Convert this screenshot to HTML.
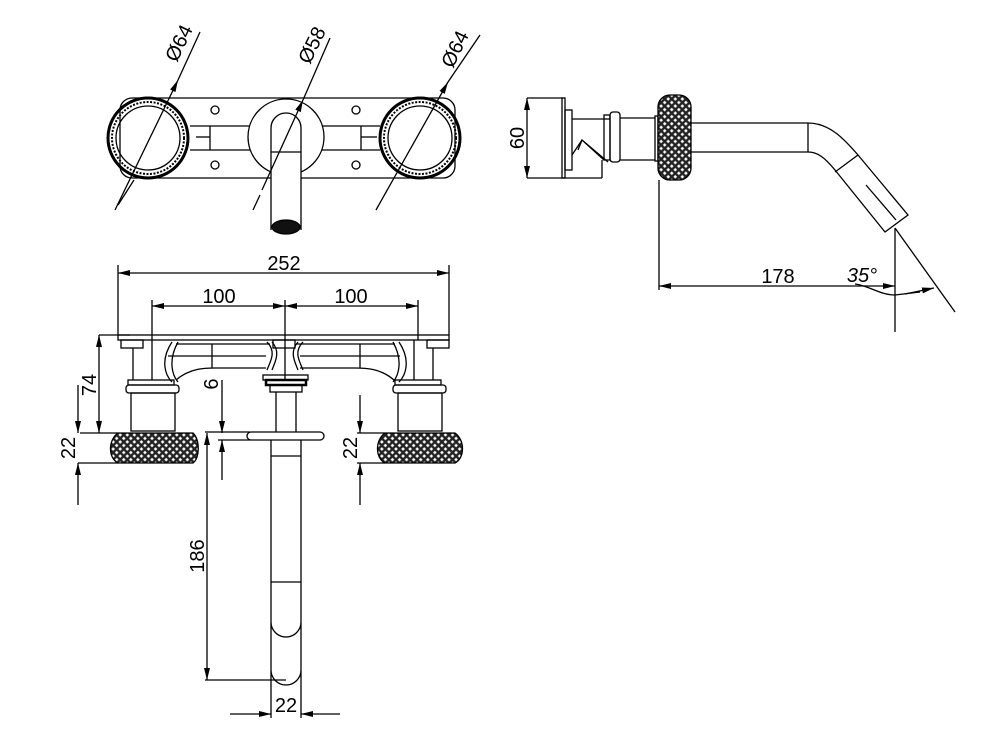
<!DOCTYPE html>
<html><head><meta charset="utf-8"><style>html,body{margin:0;padding:0;background:#fff}svg{display:block}</style></head><body>
<svg width="1000" height="737" viewBox="0 0 1000 737" xmlns="http://www.w3.org/2000/svg" font-family="Liberation Sans, sans-serif">
<defs>
<pattern id="kn" width="5" height="5" patternUnits="userSpaceOnUse" patternTransform="rotate(45)">
<rect width="5" height="5" fill="#222"/><rect x="1.2" y="1.2" width="2.6" height="2.6" fill="#fff"/>
</pattern>
<marker id="a" markerWidth="12" markerHeight="6" refX="12" refY="3" orient="auto" markerUnits="userSpaceOnUse"><path d="M0,0 L12,3 L0,6 z" fill="#000"/></marker>
</defs>
<g fill="none" stroke="#000" stroke-width="1.3">
<!-- TOP VIEW -->
<rect x="120" y="98" width="335" height="80" rx="12"/>
<line x1="190" y1="126" x2="250" y2="126"/><line x1="190" y1="150" x2="250" y2="150"/>
<line x1="210" y1="126" x2="210" y2="150"/><line x1="196" y1="137" x2="210" y2="137"/>
<line x1="322" y1="126" x2="380" y2="126"/><line x1="322" y1="150" x2="380" y2="150"/>
<line x1="361" y1="126" x2="361" y2="150"/><line x1="361" y1="137" x2="377" y2="137"/>
<circle cx="215" cy="110" r="4"/><circle cx="215" cy="165" r="4"/>
<circle cx="356" cy="110" r="4"/><circle cx="356" cy="165" r="4"/>
<circle cx="148" cy="138" r="40" stroke-width="3"/><circle cx="148" cy="138" r="36" stroke-dasharray="2 1.5" stroke-width="2"/><circle cx="148" cy="138" r="32"/>
<circle cx="420" cy="138" r="40" stroke-width="3"/><circle cx="420" cy="138" r="36" stroke-dasharray="2 1.5" stroke-width="2"/><circle cx="420" cy="138" r="32"/>
<circle cx="286" cy="137" r="38" fill="#fff"/>
<path d="M271,230 V128 A15,15 0 0 1 301,128 V230" fill="#fff"/>
<line x1="271" y1="152" x2="301" y2="152"/>
<ellipse cx="286" cy="227" rx="14" ry="7" fill="#111"/>
<line x1="115" y1="210" x2="178" y2="80" marker-end="url(#a)"/><line x1="178" y1="80" x2="200" y2="32"/><line x1="118" y1="205" x2="134" y2="180"/>
<line x1="253" y1="210" x2="260" y2="195" /><line x1="262" y1="190" x2="303" y2="100" marker-end="url(#a)"/><line x1="303" y1="100" x2="330" y2="38"/>
<line x1="376" y1="210" x2="448" y2="82" marker-end="url(#a)"/><line x1="448" y1="82" x2="480" y2="35"/>
<!-- FRONT VIEW dims -->
<line x1="118" y1="265" x2="118" y2="335"/><line x1="449" y1="265" x2="449" y2="335"/>
<line x1="150" y1="273" x2="118" y2="273" marker-end="url(#a)"/><line x1="150" y1="273" x2="449" y2="273" marker-end="url(#a)"/>
<line x1="152" y1="300" x2="152" y2="340"/><line x1="285" y1="300" x2="285" y2="380"/><line x1="418" y1="300" x2="418" y2="340"/>
<line x1="200" y1="306" x2="152" y2="306" marker-end="url(#a)"/><line x1="200" y1="306" x2="285" y2="306" marker-end="url(#a)"/>
<line x1="350" y1="306" x2="285" y2="306" marker-end="url(#a)"/><line x1="350" y1="306" x2="418" y2="306" marker-end="url(#a)"/>
<!-- front body -->
<rect x="118" y="335" width="331" height="5"/>
<rect x="121" y="340" width="22" height="8"/><rect x="273" y="340" width="22" height="8"/><rect x="427" y="340" width="22" height="8"/>
<line x1="133" y1="348" x2="133" y2="380"/><line x1="152" y1="340" x2="152" y2="380"/>
<line x1="433" y1="348" x2="433" y2="380"/><line x1="414" y1="340" x2="414" y2="380"/>
<path d="M172,342 C160,360 165,375 172,382 M178,342 C168,360 172,375 178,382"/>
<path d="M399,342 C411,360 406,375 399,382 M393,342 C403,360 399,375 393,382"/>
<path d="M267,342 C277,352 270,362 267,370 M272,342 C281,352 275,362 272,370"/>
<path d="M303,342 C293,352 300,362 303,370 M298,342 C289,352 295,362 298,370"/>
<line x1="176" y1="344" x2="270" y2="344"/><line x1="296" y1="344" x2="395" y2="344"/>
<line x1="168" y1="356" x2="266" y2="356"/><line x1="300" y1="356" x2="400" y2="356"/>
<line x1="212" y1="344" x2="212" y2="368"/><line x1="360" y1="344" x2="360" y2="368"/>
<path d="M176,380 C190,368 205,368 215,368 H266 M300,368 H355 C365,368 380,368 394,380"/>
<rect x="128" y="380" width="46" height="5"/><rect x="126" y="385" width="53" height="8" rx="3"/>
<rect x="395" y="380" width="46" height="5"/><rect x="393" y="385" width="53" height="8" rx="3"/>
<rect x="131" y="393" width="44" height="38"/><rect x="398" y="393" width="44" height="38"/>
<rect x="263" y="375" width="45" height="5"/><rect x="266" y="380" width="40" height="5" stroke-width="2.5"/><rect x="270" y="385" width="32" height="7"/>
<line x1="276" y1="392" x2="276" y2="432"/><line x1="296" y1="392" x2="296" y2="432"/>
<path d="M118,433 H193 C200,440 200,458 193,463 H118 C108,458 108,440 118,433 z" fill="url(#kn)"/>
<path d="M385,433 H455 C465,440 465,458 455,463 H385 C375,458 375,440 385,433 z" fill="url(#kn)"/>
<rect x="247" y="432" width="77" height="8" rx="4" fill="#fff"/>
<path d="M271,440 V680 M301,440 V680 M271,456 H301 M271,582 H301 M271,622 A15,15 0 0 0 301,622 M271,670 A15,15 0 0 0 301,670"/>
<!-- left dims -->
<line x1="99" y1="335" x2="130" y2="335"/><line x1="80" y1="433" x2="118" y2="433"/><line x1="78" y1="463" x2="118" y2="463"/>
<line x1="99" y1="385" x2="99" y2="335" marker-end="url(#a)"/><line x1="99" y1="385" x2="99" y2="433" marker-end="url(#a)"/>
<line x1="78" y1="385" x2="78" y2="433" marker-end="url(#a)"/><line x1="78" y1="505" x2="78" y2="463" marker-end="url(#a)"/>
<line x1="222" y1="380" x2="222" y2="433" marker-end="url(#a)"/><line x1="222" y1="480" x2="222" y2="440" marker-end="url(#a)"/>
<line x1="205" y1="432" x2="250" y2="432"/><line x1="218" y1="440" x2="250" y2="440"/>
<line x1="207" y1="550" x2="207" y2="433" marker-end="url(#a)"/><line x1="207" y1="550" x2="207" y2="680" marker-end="url(#a)"/>
<line x1="205" y1="680" x2="286" y2="680"/>
<line x1="271" y1="680" x2="271" y2="718"/><line x1="301" y1="680" x2="301" y2="718"/>
<line x1="230" y1="714" x2="271" y2="714" marker-end="url(#a)"/><line x1="340" y1="714" x2="301" y2="714" marker-end="url(#a)"/>
<line x1="360" y1="395" x2="360" y2="433" marker-end="url(#a)"/><line x1="360" y1="505" x2="360" y2="463" marker-end="url(#a)"/>
<line x1="357" y1="433" x2="385" y2="433"/><line x1="357" y1="463" x2="385" y2="463"/>
<!-- SIDE VIEW -->
<line x1="527" y1="98" x2="563" y2="98"/><line x1="527" y1="178" x2="602" y2="178"/>
<line x1="527" y1="140" x2="527" y2="98" marker-end="url(#a)"/><line x1="527" y1="140" x2="527" y2="178" marker-end="url(#a)"/>
<rect x="562" y="98" width="3" height="80"/><rect x="565" y="110" width="7" height="60"/>
<line x1="572" y1="119" x2="610" y2="119"/><line x1="602" y1="178" x2="602" y2="160"/>
<path d="M572,155 L582,140 L604,160 M578,150 L582,140 L608,162"/>
<rect x="604" y="115" width="6" height="45"/><rect x="610" y="112" width="10" height="50" rx="3"/>
<line x1="620" y1="118" x2="655" y2="118"/><line x1="620" y1="160" x2="655" y2="160"/>
<rect x="655" y="116" width="3" height="45"/>
<rect x="658" y="95" width="33" height="85" rx="12" fill="url(#kn)"/>
<path d="M691,123 H808 C830,123 845,140 858,155 L908,215 L885,232 L835,170 C825,158 818,152 808,152 H691"/>
<line x1="808" y1="123" x2="808" y2="152"/><line x1="858" y1="155" x2="835" y2="172"/>
<line x1="866" y1="185" x2="896" y2="220"/>
<line x1="659" y1="180" x2="659" y2="290"/><line x1="895" y1="228" x2="895" y2="332"/>
<line x1="895" y1="228" x2="955" y2="312"/>
<line x1="780" y1="286" x2="659" y2="286" marker-end="url(#a)"/><line x1="780" y1="286" x2="895" y2="286" marker-end="url(#a)"/>
<path d="M855,284 C870,286 880,295 895,295 L920,292" /><line x1="905" y1="294" x2="934" y2="288" marker-end="url(#a)"/>
</g>
<g font-size="20" fill="#000">
<text x="0" y="0" transform="translate(185,46) rotate(-64)" text-anchor="middle">Ø64</text>
<text x="0" y="0" transform="translate(318,48) rotate(-64)" text-anchor="middle">Ø58</text>
<text x="0" y="0" transform="translate(461,52) rotate(-64)" text-anchor="middle">Ø64</text>
<text x="284" y="270" text-anchor="middle">252</text>
<text x="219" y="303" text-anchor="middle">100</text>
<text x="351" y="303" text-anchor="middle">100</text>
<text transform="translate(96,385) rotate(-90)" text-anchor="middle">74</text>
<text transform="translate(75,448) rotate(-90)" text-anchor="middle">22</text>
<text transform="translate(218,384) rotate(-90)" text-anchor="middle">6</text>
<text transform="translate(204,556) rotate(-90)" text-anchor="middle">186</text>
<text transform="translate(357,448) rotate(-90)" text-anchor="middle">22</text>
<text x="286" y="712" text-anchor="middle">22</text>
<text transform="translate(524,138) rotate(-90)" text-anchor="middle">60</text>
<text x="778" y="283" text-anchor="middle">178</text>
<text x="862" y="282" text-anchor="middle" font-style="italic">35°</text>
</g>
</svg>
</body></html>
